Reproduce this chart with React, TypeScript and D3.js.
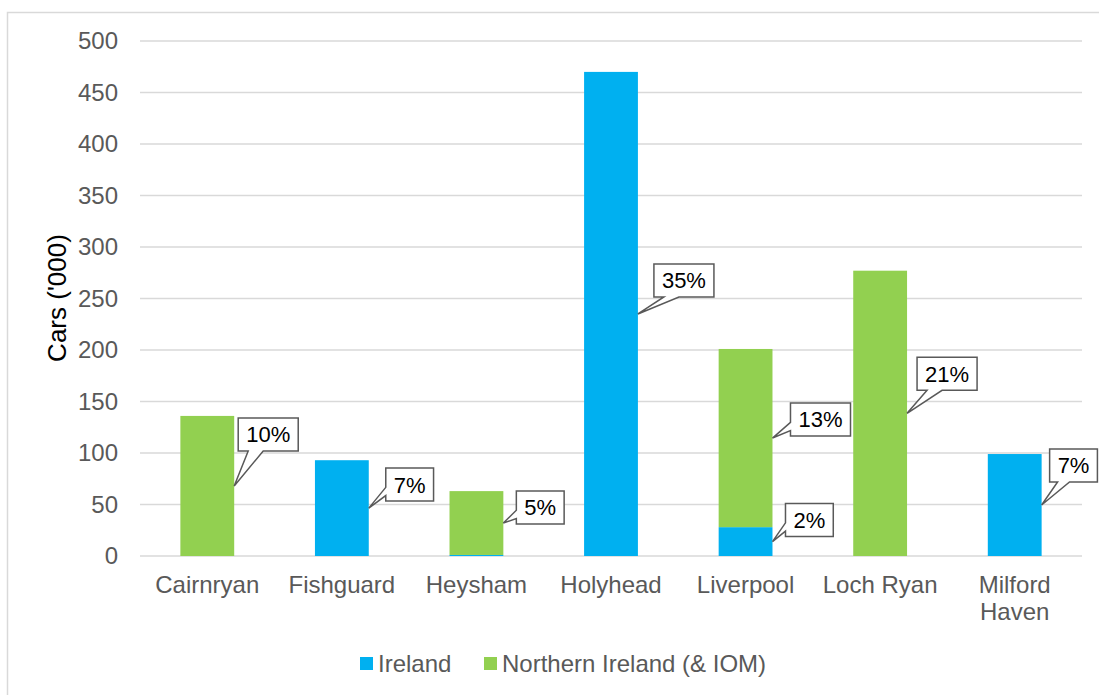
import React from 'react';
import * as d3 from 'd3';

const categories = ['Cairnryan', 'Fishguard', 'Heysham', 'Holyhead', 'Liverpool', 'Loch Ryan', 'Milford Haven'];
const ireland = [0, 93, 1, 470, 28, 0, 99];
const northernIreland = [136, 0, 62, 0, 173, 277, 0];
const irelandShare = ['', '7%', '', '35%', '2%', '', '7%'];
const niShare = ['10%', '', '5%', '', '13%', '21%', ''];
const yTicks = [0, 50, 100, 150, 200, 250, 300, 350, 400, 450, 500];
const seriesNames = ['Ireland', 'Northern Ireland (& IOM)'];

// where each callout box sits relative to its pointer tip (left, top), px
const irelandOffsets = [null, [17, -40], null, [16, -50], [13, -38], null, [8, -56]];
const niOffsets = [[4, -68], null, [13, -32], null, [18, -35], [10, -56], null];

const W = 1099, H = 695;
const M = {left: 140, right: 1082, top: 41, bottom: 556};
const COLORS = ['#00B0F0', '#92D050'];
const FONT = '"Liberation Sans", Arial, sans-serif';
const FS = 24;
const CFS = 22;

// excel style wedgeRectCallout path
function calloutPath(x: number, y: number, w: number, h: number, tx: number, ty: number) {
  const dxPos = tx - (x + w / 2), dyPos = ty - (y + h / 2);
  const dq = dxPos * h / w;
  const r = x + w, b = y + h;
  if (Math.abs(dyPos) > Math.abs(dq)) {
    const x1 = x + w * (dxPos > 0 ? 7 : 2) / 12, x2 = x + w * (dxPos > 0 ? 10 : 5) / 12;
    if (dyPos > 0) return `M${x},${y}H${r}V${b}H${x2}L${tx},${ty}L${x1},${b}H${x}Z`;
    return `M${x},${y}H${x1}L${tx},${ty}L${x2},${y}H${r}V${b}H${x}Z`;
  }
  const y1 = y + h * (dyPos > 0 ? 7 : 2) / 12, y2 = y + h * (dyPos > 0 ? 10 : 5) / 12;
  if (dxPos < 0) return `M${x},${y}H${r}V${b}H${x}V${y2}L${tx},${ty}L${x},${y1}Z`;
  return `M${x},${y}H${r}V${y1}L${tx},${ty}L${r},${y2}V${b}H${x}Z`;
}

function textWidth(s: string) {
  let em = 0;
  for (const c of s) em += c === '%' ? 0.889 : 0.556;
  return em * CFS;
}

export default function App() {
  const x = d3.scaleBand().domain(categories).range([M.left, M.right]).paddingInner(0.6).paddingOuter(0.3);
  const y = d3.scaleLinear().domain([0, 500]).range([M.bottom, M.top]);
  const rows = categories.map((c, i) => ({cat: c, ire: ireland[i], ni: northernIreland[i]}));
  const stacked = d3.stack<any>().keys(['ire', 'ni'])(rows);
  const shares = [irelandShare, niShare];
  const offsets = [irelandOffsets, niOffsets];

  const callouts: any[] = [];
  stacked.forEach((layer, si) => {
    layer.forEach((d, i) => {
      const label = shares[si][i];
      const off = offsets[si][i];
      if (!label || !off) return;
      const tx = (x(categories[i]) as number) + x.bandwidth();
      const ty = y((d[0] + d[1]) / 2);
      const w = textWidth(label) + 16, h = 33;
      const bx = tx + off[0], by = ty + off[1];
      callouts.push({label, tx, ty, bx, by, w, h});
    });
  });

  return (
    <div style={{position: 'absolute', left: 0, top: 0}}>
      <svg width={W} height={H} style={{display: 'block', fontFamily: FONT}}>
        <rect x={0} y={0} width={W} height={H} fill="#fff" />
        <rect x={7.5} y={12.5} width={W + 20} height={H + 20} fill="none" stroke="#d9d9d9" strokeWidth={1.5} />
        {yTicks.map(t => (
          <g key={t}>
            <line x1={M.left} x2={M.right} y1={y(t)} y2={y(t)} stroke="#d9d9d9" strokeWidth={1.5} />
            <text x={118} y={y(t)} dy="0.35em" textAnchor="end" fontSize={FS} fill="#595959">{t}</text>
          </g>
        ))}
        {stacked.map((layer, si) => (
          <g key={si} fill={COLORS[si]}>
            {layer.map((d, i) => {
              const h = y(d[0]) - y(d[1]);
              if (h <= 0) return null;
              return <rect key={i} x={x(categories[i])} y={y(d[1])} width={x.bandwidth()} height={h} />;
            })}
          </g>
        ))}
        {categories.map(c => {
          const lines = c.length > 10 ? c.split(' ') : [c];
          const cx = (x(c) as number) + x.bandwidth() / 2;
          return (
            <text key={c} x={cx} y={593} textAnchor="middle" fontSize={FS} fill="#595959">
              {lines.map((l, k) => <tspan key={k} x={cx} dy={k === 0 ? 0 : 27}>{l}</tspan>)}
            </text>
          );
        })}
        <text transform={`translate(66,298) rotate(-90)`} textAnchor="middle" fontSize={26} fill="#000">Cars ('000)</text>
        {callouts.map((c, k) => (
          <g key={k}>
            <path d={calloutPath(c.bx, c.by, c.w, c.h, c.tx, c.ty)} fill="#fff" stroke="#595959" strokeWidth={1.5} />
            <text x={c.bx + c.w / 2} y={c.by + c.h / 2} dy="0.36em" textAnchor="middle" fontSize={CFS} fill="#000">{c.label}</text>
          </g>
        ))}
        <g>
          {[360, 484].map((lx, i) => (
            <g key={i}>
              <rect x={lx} y={657} width={13} height={13} fill={COLORS[i]} />
              <text x={lx + 18} y={663.5} dy="0.36em" fontSize={FS} fill="#595959">{seriesNames[i]}</text>
            </g>
          ))}
        </g>
      </svg>
    </div>
  );
}
